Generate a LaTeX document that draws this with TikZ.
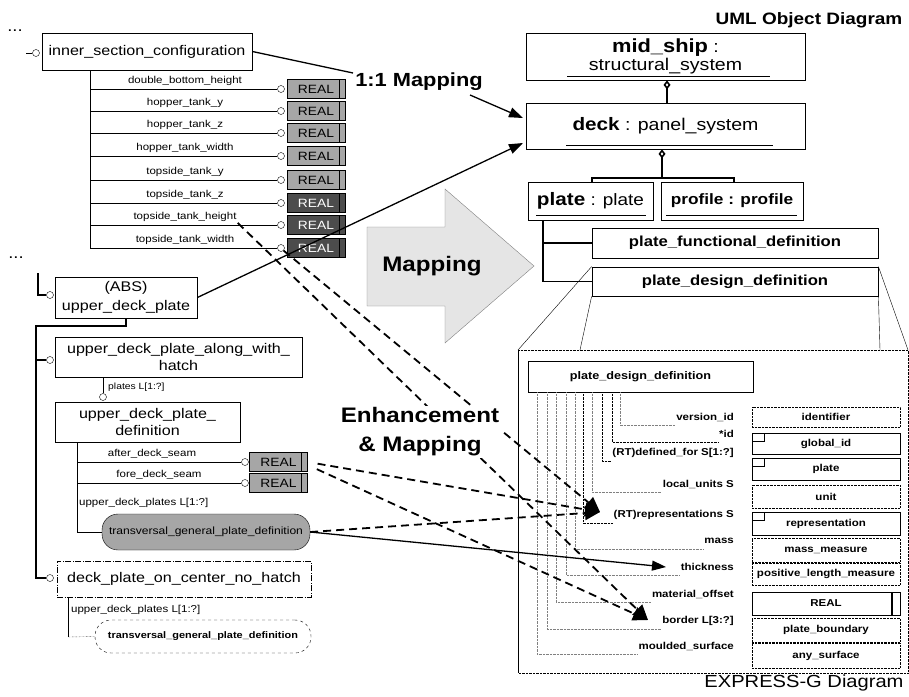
\documentclass[tikz,border=0pt]{standalone}
\usepackage{fontspec}
\setmainfont{Liberation Sans}[FakeStretch=1.15]
\usetikzlibrary{arrows.meta}
\newcommand{\fsz}[1]{\fontsize{#1}{#1}\selectfont}
\tikzset{
  box/.style={draw,line width=0.8pt,inner sep=1pt,align=center},
  opc/.style={circle,draw,fill=white,inner sep=0pt,minimum size=7pt},
  attr/.style={inner sep=1pt,font=\fsz{10}},
  realbox/.style={draw,fill=black!35,inner sep=0pt,minimum width=58pt,minimum height=19pt,font=\fsz{12},
    path picture={\draw ([xshift=-6pt]path picture bounding box.north east)--([xshift=-6pt]path picture bounding box.south east);}},
  realdark/.style={realbox,fill=black!70,text=white},
  pill/.style={draw,rounded corners=16pt,inner sep=1pt},
  tree/.style={line width=2pt},
  uml/.style={line width=1.6pt},
  agg/.style={uml,-{Diamond[open,length=9pt,width=7pt]}},
  eattr/.style={anchor=east,inner sep=1pt,font=\bfseries\fsz{10}},
  attrl/.style={densely dotted,draw=black!60},
  tbox/.style={draw,densely dotted,minimum width=148pt,inner sep=0pt,font=\bfseries\fsz{10}},
  ebox/.style={draw,minimum width=148pt,inner sep=0pt,font=\bfseries\fsz{10},
    path picture={\draw (path picture bounding box.north west) rectangle ++(12pt,-8pt);}},
  rbox/.style={draw,minimum width=148pt,inner sep=0pt,font=\bfseries\fsz{10},
    path picture={\draw[line width=1.5pt] ([xshift=-8pt]path picture bounding box.north east)--([xshift=-8pt]path picture bounding box.south east);}},
  map/.style={line width=1.3pt,-{Triangle[length=14pt,width=10pt]}},
  enh/.style={line width=1.8pt,dash pattern=on 8pt off 5pt,-{Triangle[length=15pt,width=14pt]}},
  big/.style={font=\bfseries\fsz{21}}
}
\begin{document}
\begin{tikzpicture}[x=1pt,y=-1pt]
\useasboundingbox (0,0) rectangle (909,696);

% left: inner section configuration
\node[font=\fsz{16}] (dots1) at (15,31) {...};
\node[box,minimum width=210pt,minimum height=37pt,font=\fsz{14}] (isc) at (147,51.5) {inner\_section\_configuration};
\node[opc] (cisc) at (36,53) {};
\coordinate (lisc) at (26,53);
\draw[line width=1pt] (lisc) -- (cisc);
\coordinate (s0) at (90,70);
\foreach \y/\lab [count=\i] in {89/double\_bottom\_height,111/hopper\_tank\_y,133/hopper\_tank\_z,156/hopper\_tank\_width,180/topside\_tank\_y,203/topside\_tank\_z,225/topside\_tank\_height,248/topside\_tank\_width}{
  \coordinate (s\i) at (90,\y);
  \node[opc] (c\i) at (281,\y) {};
  \node[attr] (a\i) at (185,\y-8) {\lab};
  \draw (s\i) -- (c\i);
}
\draw (s0) -- (s8);
\foreach \y [count=\i] in {89,111,133,156,180}
  \node[realbox] (r\i) at (316,\y) {REAL};
\foreach \y/\i in {203/6,225/7,248/8}
  \node[realdark] (r\i) at (316,\y) {REAL};

% left: upper deck plate
\node[font=\fsz{16}] (dots2) at (16,258) {...};
\node[box,minimum width=142pt,minimum height=41pt,font=\fontsize{14}{19}\selectfont] (abs) at (126,297.5) {(ABS)\\upper\_deck\_plate};
\node[opc] (cabs) at (50,295) {};
\coordinate (labs) at (38,273);
\draw[line width=1.2pt] (labs) |- (cabs);
\node[opc] (cudpa) at (50,360) {};
\node[opc] (cdpc) at (50,578) {};
\coordinate (t2) at (36,326);
\draw[tree] (abs.south) |- (t2) |- (cdpc);
\draw[tree] (cudpa) -- (cudpa -| t2);
\node[box,minimum width=247pt,minimum height=40pt,font=\fontsize{14}{17}\selectfont] (udpa) at (178.5,357) {upper\_deck\_plate\_along\_with\_\\hatch};
\node[opc] (cplates) at (103,397) {};
\draw (udpa.south -| cplates) -- (cplates);
\node[attr,anchor=west,font=\fsz{9}] (lplates) at (107,387) {plates L[1:?]};
\node[box,minimum width=185pt,minimum height=40pt,font=\fontsize{14}{17}\selectfont] (udpd) at (147.5,422) {upper\_deck\_plate\_\\definition};
\foreach \y/\lab/\lx [count=\i] in {462/after\_deck\_seam/152,483/fore\_deck\_seam/159}{
  \coordinate (u\i) at (77,\y);
  \node[opc] (cu\i) at (245,\y) {};
  \node[realbox] (ru\i) at (278.5,\y) {REAL};
  \node[attr] (au\i) at (\lx,\y-8) {\lab};
  \draw (u\i) -- (cu\i);
}
\node[attr,anchor=west] (lup1) at (78,503) {upper\_deck\_plates L[1:?]};
\node[pill,fill=black!35,minimum width=208pt,minimum height=36pt,font=\fsz{10.5}] (pill1) at (206,532) {transversal\_general\_plate\_definition};
\coordinate (v2) at (77,532);
\draw (udpd.south -| v2) -- (v2) -- (pill1.west);
\node[box,dash pattern=on 6pt off 1.5pt on 1pt off 1.5pt,minimum width=254pt,minimum height=36pt,font=\fsz{14}] (dpc) at (184,579) {deck\_plate\_on\_center\_no\_hatch};
\node[attr,anchor=west] (lup2) at (70,610) {upper\_deck\_plates L[1:?]};
\node[pill,dashed,minimum width=216pt,minimum height=33pt,font=\bfseries\fsz{9.5}] (pill2) at (203,636.5) {transversal\_general\_plate\_definition};
\coordinate (v3) at (68,637);
\draw (dpc.south -| v3) -- (v3);
\draw[densely dotted] (v3) -- (pill2.west);

% right: UML object diagram
\node[font=\bfseries\fsz{16.5}] (umlt) at (809,20) {UML Object Diagram};
\node[box,minimum width=279pt,minimum height=47pt,font=\fontsize{17}{18}\selectfont] (mid) at (665.5,56.5) {{\bfseries\fsz{19}mid\_ship} :\\structural\_system};
\node[box,minimum width=279pt,minimum height=46pt,font=\fsz{17}] (deck) at (665.5,126) {{\bfseries\fsz{18}deck} : panel\_system};
\node[box,minimum width=125pt,minimum height=38pt,font=\fsz{16.5}] (plate) at (590.5,201) {{\bfseries\fsz{18}plate} : plate};
\node[box,minimum width=142pt,minimum height=38pt,font=\bfseries\fsz{15}] (profile) at (732,201) {profile : profile};
\node[box,minimum width=286pt,minimum height=30pt,font=\bfseries\fsz{14.5}] (pfd) at (735,243) {plate\_functional\_definition};
\node[box,minimum width=286pt,minimum height=29pt,font=\bfseries\fsz{14.5}] (pdd) at (735,281.5) {plate\_design\_definition};
\draw[line width=0.8pt] (567,76) -- (770,76);
\draw[line width=0.8pt] (566,145) -- (773,145);
\draw[line width=0.8pt] (536,215) -- (646,215);
\draw[line width=0.8pt] (666,215) -- (797,215);
\draw[agg] ([xshift=1.5pt]deck.north) -- ([xshift=1.5pt]mid.south);
\coordinate (dj) at (662,178);
\coordinate (pj) at (592,178);
\coordinate (qj) at (734,178);
\draw[agg] (dj) -- (deck.south -| dj);
\draw[uml] (plate.north -| pj) -- (pj) -- (qj) -- (profile.north -| qj);
\coordinate (pt) at (543,243);
\draw[uml] (plate.south -| pt) |- (pdd.west);
\draw[uml] (pt) -- (pfd.west);

% right: EXPRESS-G detail
\coordinate (x1) at (518,350);
\coordinate (x2) at (580,350);
\coordinate (x3) at (880,350);
\coordinate (x4) at (908,350);
\coordinate (x5) at (908,673);
\coordinate (x6) at (518,673);
\draw[thin] (pdd.north west) -- (x1);
\draw[thin] (pdd.south west) -- (x2);
\draw[thin] (pdd.south east) -- (x3);
\draw[thin] (pdd.north east) -- (x4);
\draw (x1) -- (x6);
\draw[densely dotted] (x1) -- (x4) -- (x5) -- (x6);
\node[box,minimum width=225pt,minimum height=31pt,font=\bfseries\fsz{11}] (ipdd) at (640.5,376.5) {plate\_design\_definition};
\node[tbox,minimum height=20pt] (t1) at (826,417) {identifier};
\node[ebox,minimum height=21pt] (t2) at (826,443.5) {global\_id};
\node[ebox,minimum height=22pt] (t3) at (826,469) {plate};
\node[tbox,minimum height=23pt] (t4) at (826,496.5) {unit};
\node[ebox,minimum height=23pt] (t5) at (826,523.5) {representation};
\node[tbox,minimum height=24pt] (t6) at (826,550) {mass\_measure};
\node[tbox,minimum height=22pt] (t7) at (826,574) {positive\_length\_measure};
\node[rbox,minimum height=23pt] (t8) at (826,603.5) {REAL};
\node[tbox,minimum height=24pt] (t9) at (826,630) {plate\_boundary};
\node[tbox,minimum height=25pt] (t10) at (826,655.5) {any\_surface};
\foreach \x/\y/\lab/\g [count=\i] in {620/417/version\_id/50,612/434/*id/100,602/453/(RT)defined\_for S[1:?]/100,592/484/local\_units S/50,583/515/(RT)representations S/100,575/541/mass/50,566/567/thickness/50,556/594/material\_offset/50,547/621/border L[3:?]/50,537/646/moulded\_surface/50}{
  \node[eattr] (e\i) at (735,\y) {\lab};
  \coordinate (b\i) at (\x,\y+8);
  \draw[attrl,draw=black!\g] (ipdd.south -| b\i) -- (b\i) -- (b\i -| e\i.west);
}
\node[font=\fsz{17.5}] (expt) at (804,683) {EXPRESS-G Diagram};

% centre: mappings
\node[font=\bfseries\fsz{19}] (m11) at (419,82) {1:1 Mapping};
\coordinate (m11in) at (353,73);
\coordinate (m11out) at (470,95);
\coordinate (dkin1) at (523,118);
\coordinate (dkin2) at (523,143);
\draw[line width=1.3pt] (isc.east) -- (m11in);
\draw[map] (m11out) -- (dkin1);
\draw[map] (abs.east) -- (dkin2);
\draw[draw=black!50,fill=black!10] (367,227) -- (445,227) -- (445,189) -- (534,266) -- (445,343) -- (445,306) -- (367,306) -- cycle;
\node[big] (mapt) at (432,266) {Mapping};
\coordinate (repin) at (600,512);
\coordinate (bordin) at (648,620);
\coordinate (thkin) at (666,567);
\draw[enh] (a7.south east) -- (bordin);
\draw[enh] (c8.south east) -- (repin);
\draw[enh,shorten <=10pt] (ru1.east) -- (repin);
\draw[enh,shorten <=10pt] ([yshift=-3pt]ru1.east) -- (bordin);
\draw[enh] (pill1.east) -- (repin);
\draw[map] (pill1.east) -- (thkin);
\node[big,font=\bfseries\fontsize{21}{29}\selectfont,fill=white,align=center,inner sep=2pt] (enht) at (420,432) {Enhancement\\\& Mapping};
\end{tikzpicture}
\end{document}
